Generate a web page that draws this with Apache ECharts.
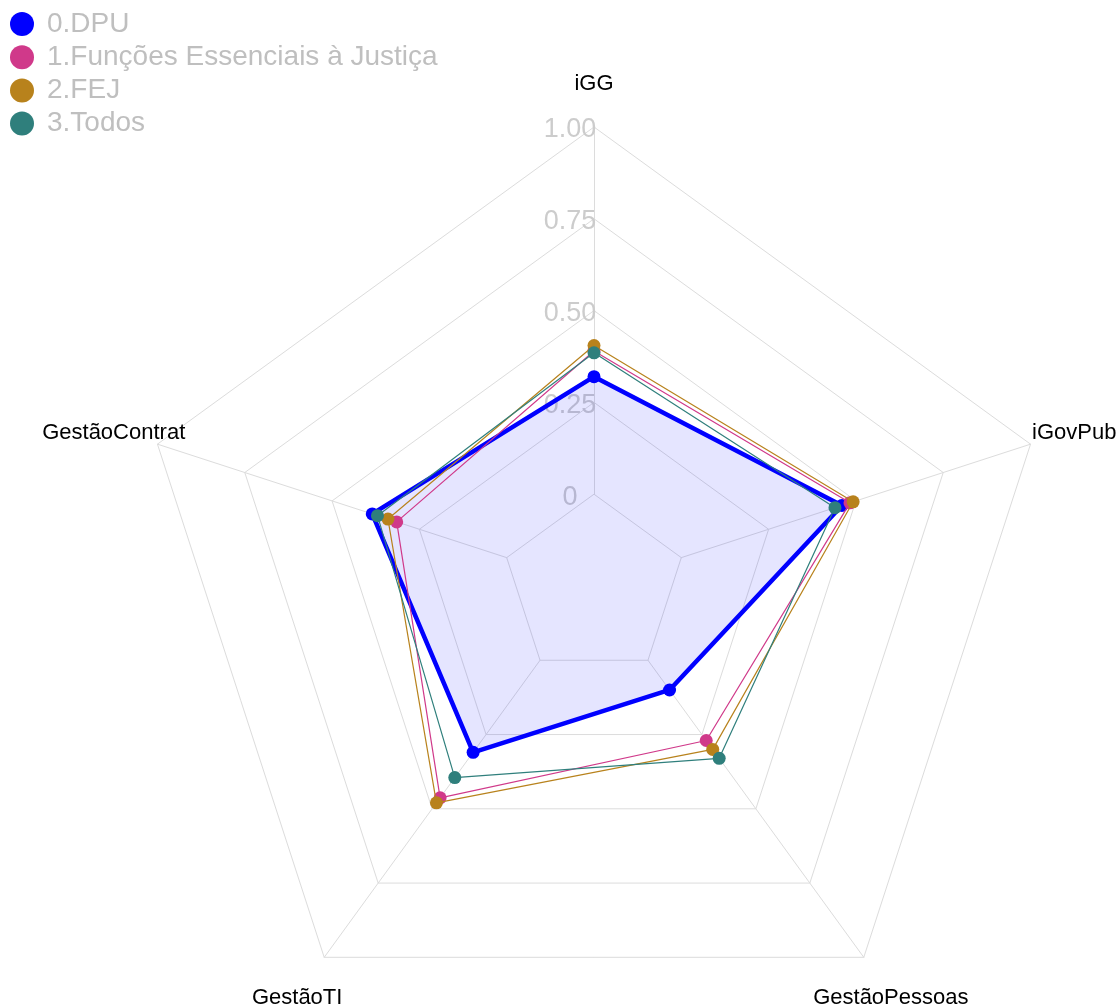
<!DOCTYPE html>
<html>
<head>
<meta charset="utf-8">
<script src="https://cdn.jsdelivr.net/npm/echarts@6/dist/echarts.min.js"></script>
<style>
  html, body { margin: 0; padding: 0; background: #ffffff; }
  #chart { width: 1119px; height: 1006px; }
</style>
</head>
<body>
<div id="chart"></div>
<script>
// Axes in clockwise reading order, starting at the top
const categories = ['iGG', 'iGovPub', 'GestãoPessoas', 'GestãoTI', 'GestãoContrat'];
const seriesNames = ['0.DPU', '1.Funções Essenciais à Justiça', '2.FEJ', '3.Todos'];
const dpu     = [0.32, 0.46, 0.10, 0.31, 0.385];
const funcoes = [0.39, 0.483, 0.27, 0.463, 0.315];
const fej     = [0.405, 0.492, 0.30, 0.48, 0.34];
const todos   = [0.385, 0.44, 0.33, 0.395, 0.37];
const tickValues = [0, 0.25, 0.5, 0.75, 1];
const tickLabels = ['0', '0.25', '0.50', '0.75', '1.00'];
const colors = ['#0000ff', '#d0398a', '#b8821c', '#2f7f7c'];

// ECharts places indicators counter-clockwise; reorder to draw clockwise
const order = [0, 4, 3, 2, 1];
const reorder = arr => order.map(i => arr[i]);

const FONT = 'Liberation Sans, Arial, sans-serif';
const GRID = '#dcdcdc';

function makeIndicators(withLabels) {
  return reorder(categories).map((name, i) => {
    const ind = { name: name, min: -0.25, max: 1 };
    if (withLabels && i === 0) {
      ind.axisLabel = {
        show: true,
        color: '#cccccc',
        fontSize: 27,
        fontFamily: FONT,
        margin: 24,
        align: 'center',
        verticalAlign: 'middle',
        formatter: function (v) {
          for (let k = 0; k < tickValues.length; k++) {
            if (Math.abs(v - tickValues[k]) < 1e-6) return '{t|' + tickLabels[k] + '}';
          }
          return '';
        },
        rich: {
          t: { color: '#cccccc', fontSize: 27, fontFamily: FONT, padding: [6, 0, 0, 0] }
        }
      };
    }
    return ind;
  });
}

const radarBase = {
  center: [594, 586],
  radius: 459,
  startAngle: 90,
  splitNumber: 5,
  shape: 'polygon',
  axisTick: { show: false },
  axisLabel: { show: false }
};

const allData = [dpu, funcoes, fej, todos];

const series = allData.map((vals, i) => ({
  type: 'radar',
  radarIndex: 1,
  name: seriesNames[i],
  symbol: 'circle',
  symbolSize: 13,
  z: 3 + i,
  lineStyle: { color: colors[i], width: i === 0 ? 4.5 : 1.2, opacity: 1 },
  itemStyle: { color: colors[i] },
  areaStyle: i === 0 ? { color: 'rgba(0,0,255,0.1)', opacity: 1 } : undefined,
  data: [{ value: reorder(vals), name: seriesNames[i] }],
  emphasis: { disabled: true },
  silent: true
}));

const chart = echarts.init(document.getElementById('chart'), null, { renderer: 'canvas' });
chart.setOption({
  animation: false,
  backgroundColor: '#ffffff',
  color: colors,
  legend: {
    orient: 'vertical',
    left: 10,
    top: 10,
    padding: 0,
    icon: 'circle',
    itemWidth: 24,
    itemHeight: 24,
    itemGap: 5.2,
    data: seriesNames,
    textStyle: {
      color: '#bfbfbf',
      fontSize: 28,
      fontFamily: FONT,
      padding: [0, 0, 0, 8]
    },
    selectedMode: false
  },
  radar: [
    Object.assign({}, radarBase, {
      z: 0,
      indicator: makeIndicators(false),
      axisName: { show: false },
      axisLine: { show: true, lineStyle: { color: GRID, width: 1 } },
      splitLine: { show: false },
      splitArea: { show: false }
    }),
    Object.assign({}, radarBase, {
      z: 1,
      indicator: makeIndicators(true),
      nameGap: 46,
      axisName: {
        color: '#000000',
        fontSize: 22,
        fontFamily: FONT,
        align: 'center',
        verticalAlign: 'middle',
        formatter: function (name) { return '{n|' + name + '}'; },
        rich: {
          n: { color: '#000000', fontSize: 22, fontFamily: FONT, padding: [6, 0, 0, 0] }
        }
      },
      axisLine: { show: false },
      splitLine: { show: true, lineStyle: { color: GRID, width: 1 } },
      splitArea: {
        show: true,
        areaStyle: { color: ['#ffffff', 'rgba(0,0,0,0)', 'rgba(0,0,0,0)', 'rgba(0,0,0,0)', 'rgba(0,0,0,0)'] }
      }
    })
  ],
  series: series
});
</script>
</body>
</html>
